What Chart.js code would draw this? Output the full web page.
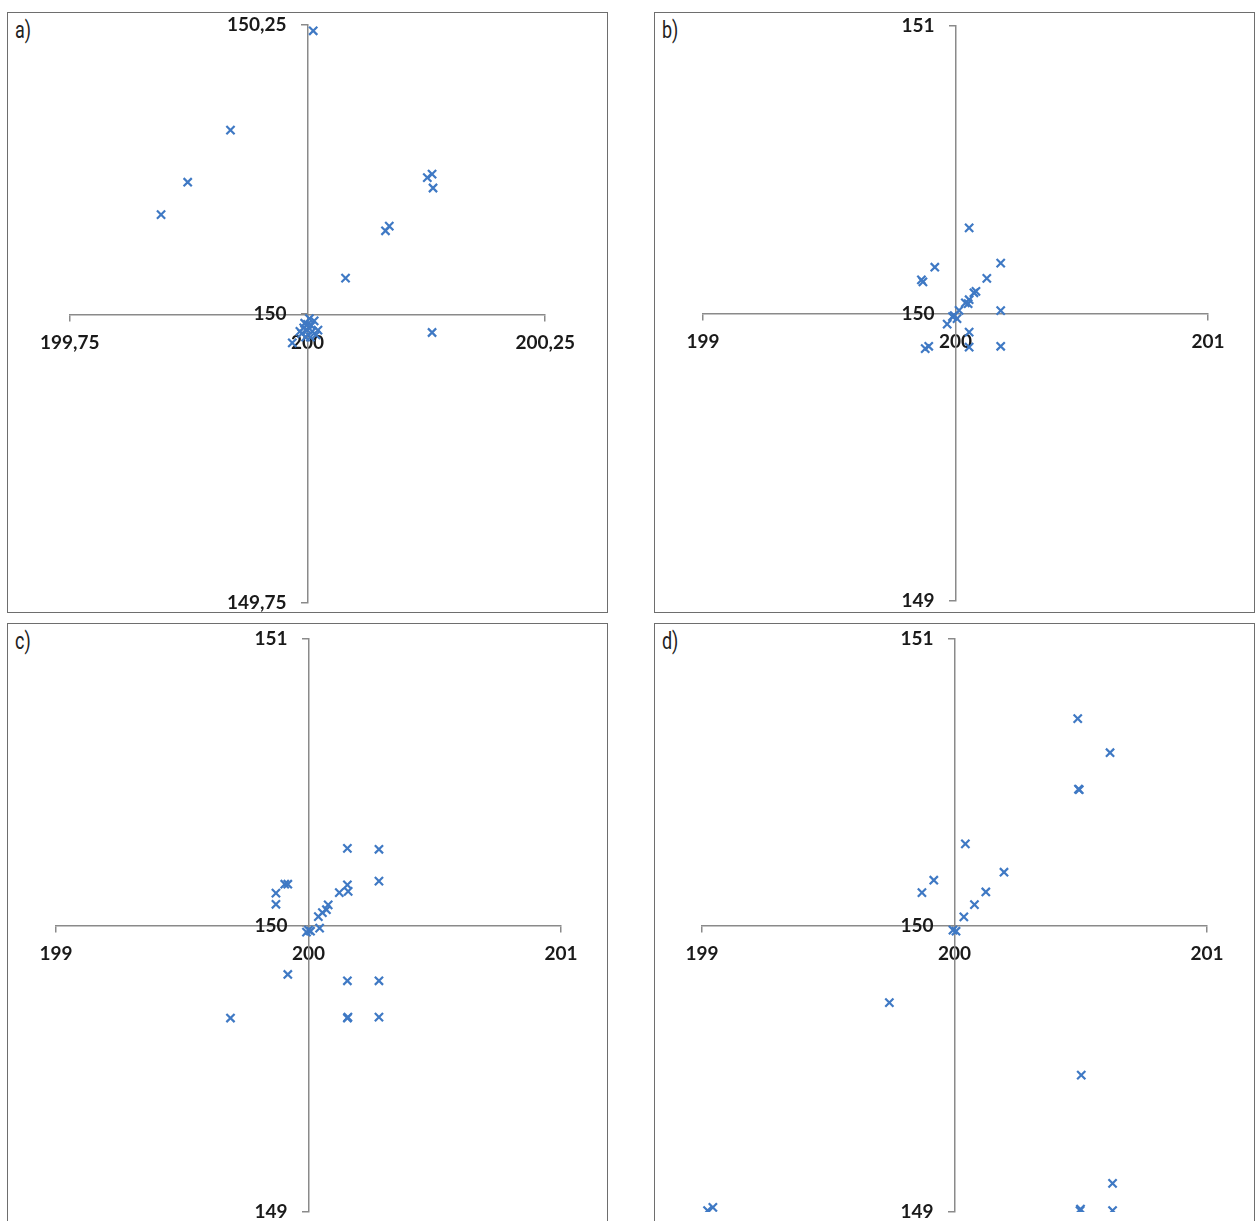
<!DOCTYPE html>
<html>
<head>
<meta charset="utf-8">
<script src="https://cdn.jsdelivr.net/npm/chart.js@4.4.1/dist/chart.umd.min.js"></script>
<style>
  html, body { margin: 0; padding: 0; background: #fff; overflow: hidden; }
  body { width: 1255px; height: 1221px; position: relative; }
  .box { position: absolute; border: 1px solid #6e6e6e; box-sizing: border-box; }
  .tag { position: absolute; font-family: "Roboto", "Liberation Sans", sans-serif; font-size: 23px; color: #222;
         transform: scaleX(0.78); transform-origin: left top; font-weight: 400; }
  canvas { position: absolute; }
</style>
</head>
<body>
<div class="box" style="left:7px;top:12px;width:601px;height:601px"></div>
<div class="box" style="left:654px;top:12px;width:601px;height:601px"></div>
<div class="box" style="left:7px;top:623px;width:601px;height:610px"></div>
<div class="box" style="left:654px;top:623px;width:601px;height:610px"></div>
<div class="tag" style="left:15px;top:17px">a)</div>
<div class="tag" style="left:662px;top:17px">b)</div>
<div class="tag" style="left:15px;top:628px">c)</div>
<div class="tag" style="left:662px;top:628px">d)</div>
<canvas id="chartA"></canvas>
<canvas id="chartB"></canvas>
<canvas id="chartC"></canvas>
<canvas id="chartD"></canvas>
<script>
// panel a (range 199,75 - 200,25 / 149,75 - 150,25)
const xA = [200.006, 199.919, 199.874, 199.846, 200.131, 200.126, 200.132, 200.086, 200.082, 200.040, 200.131, 199.984,
  200.007, 200.004, 200.000, 199.996, 199.992, 199.994, 200.000, 200.005, 200.009, 199.998, 200.003, 200.011, 199.997, 200.002];
const yA = [150.245, 150.159, 150.114, 150.086, 150.121, 150.118, 150.109, 150.076, 150.072, 150.031, 149.984, 149.975,
  149.994, 149.990, 149.991, 149.988, 149.985, 149.983, 149.986, 149.985, 149.982, 149.980, 149.980, 149.986, 149.992, 149.996];

// panel b
const xB = [200.054, 200.179, 199.918, 199.865, 199.871, 200.124, 200.081, 200.073, 200.054, 200.039, 200.050,
  200.014, 199.995, 199.988, 200.006, 199.967, 200.179, 200.054, 200.054, 200.179, 199.880, 199.894];
const yB = [150.298, 150.175, 150.161, 150.117, 150.110, 150.122, 150.077, 150.072, 150.048, 150.037, 150.034,
  150.011, 149.993, 149.989, 149.982, 149.963, 150.010, 149.935, 149.883, 149.886, 149.878, 149.886];

// panel c
const xC = [200.154, 200.279, 200.279, 200.154, 200.157, 200.122, 199.906, 199.918, 199.871, 199.871, 200.078, 200.071,
  200.055, 200.039, 200.044, 200.000, 199.992, 200.008, 199.918, 200.154, 200.279, 199.691, 200.154, 200.156, 200.279];
const yC = [150.269, 150.266, 150.155, 150.142, 150.119, 150.115, 150.144, 150.144, 150.113, 150.074, 150.072, 150.055,
  150.045, 150.031, 149.991, 149.984, 149.977, 149.980, 149.829, 149.807, 149.807, 149.677, 149.677, 149.680, 149.680];

// panel d
const xD = [200.488, 200.616, 200.491, 200.494, 200.043, 200.196, 199.918, 199.871, 200.124, 200.079, 200.037,
  199.994, 200.006, 199.742, 200.502, 200.626, 200.497, 200.499, 200.626, 199.043, 199.022];
const yD = [150.722, 150.603, 150.476, 150.474, 150.285, 150.186, 150.158, 150.115, 150.117, 150.073, 150.030,
  149.984, 149.980, 149.731, 149.478, 149.100, 149.005, 149.010, 149.005, 149.016, 149.005];

// axis ranges and tick labels
const rangeA = { xMin: 199.75, xMax: 200.25, yMin: 149.75, yMax: 150.25, step: 0.25 };
const rangeBCD = { xMin: 199, xMax: 201, yMin: 149, yMax: 151, step: 1 };

const PAD = 40;
const AXIS = '#8a8a8a';
const BLUE = '#3f79c4';

function fmt(v) {
  return String(+v.toFixed(2)).replace('.', ',');
}

function makeChart(id, xs, ys, r, area) {
  const cv = document.getElementById(id);
  const w = area.right - area.left + 2 * PAD;
  const h = area.bottom - area.top + 2 * PAD;
  cv.width = w; cv.height = h;
  cv.style.left = (area.left - PAD) + 'px';
  cv.style.top = (area.top - PAD) + 'px';
  cv.style.width = w + 'px'; cv.style.height = h + 'px';

  const pts = xs.map((x, i) => ({ x: x, y: ys[i] }));
  const tickFont = { family: 'Lato, "Open Sans", sans-serif', size: 19, weight: 'bold' };

  return new Chart(cv, {
    type: 'scatter',
    data: {
      datasets: [{
        data: pts,
        pointStyle: 'crossRot',
        pointRadius: 5.8,
        pointBorderWidth: 2.2,
        borderColor: BLUE,
        backgroundColor: BLUE
      }]
    },
    options: {
      responsive: false,
      animation: false,
      devicePixelRatio: 1,
      layout: { padding: PAD },
      plugins: { legend: { display: false }, tooltip: { enabled: false } },
      scales: {
        x: {
          type: 'linear',
          position: 'center',
          min: r.xMin, max: r.xMax,
          afterFit: (s) => { s.height = 0; },
          grid: { drawOnChartArea: false, tickLength: 6, color: AXIS, lineWidth: 1.5 },
          border: { color: AXIS, width: 1.5 },
          ticks: { stepSize: r.step, padding: 11, maxRotation: 0, autoSkip: false, color: '#1a1a1a', font: tickFont, callback: fmt }
        },
        y: {
          type: 'linear',
          position: 'center',
          min: r.yMin, max: r.yMax,
          afterFit: (s) => { s.width = 0; },
          grid: { drawOnChartArea: false, tickLength: 6, color: AXIS, lineWidth: 1.5 },
          border: { color: AXIS, width: 1.5 },
          ticks: { stepSize: r.step, padding: 15, autoSkip: false, color: '#1a1a1a', font: tickFont, callback: fmt }
        }
      }
    }
  });
}

makeChart('chartA', xA, yA, rangeA, { left: 69, right: 546, top: 25, bottom: 603 });
makeChart('chartB', xB, yB, rangeBCD, { left: 703, right: 1208, top: 26, bottom: 601 });
makeChart('chartC', xC, yC, rangeBCD, { left: 56, right: 561, top: 639, bottom: 1212 });
makeChart('chartD', xD, yD, rangeBCD, { left: 702, right: 1207, top: 639, bottom: 1212 });
</script>
</body>
</html>
